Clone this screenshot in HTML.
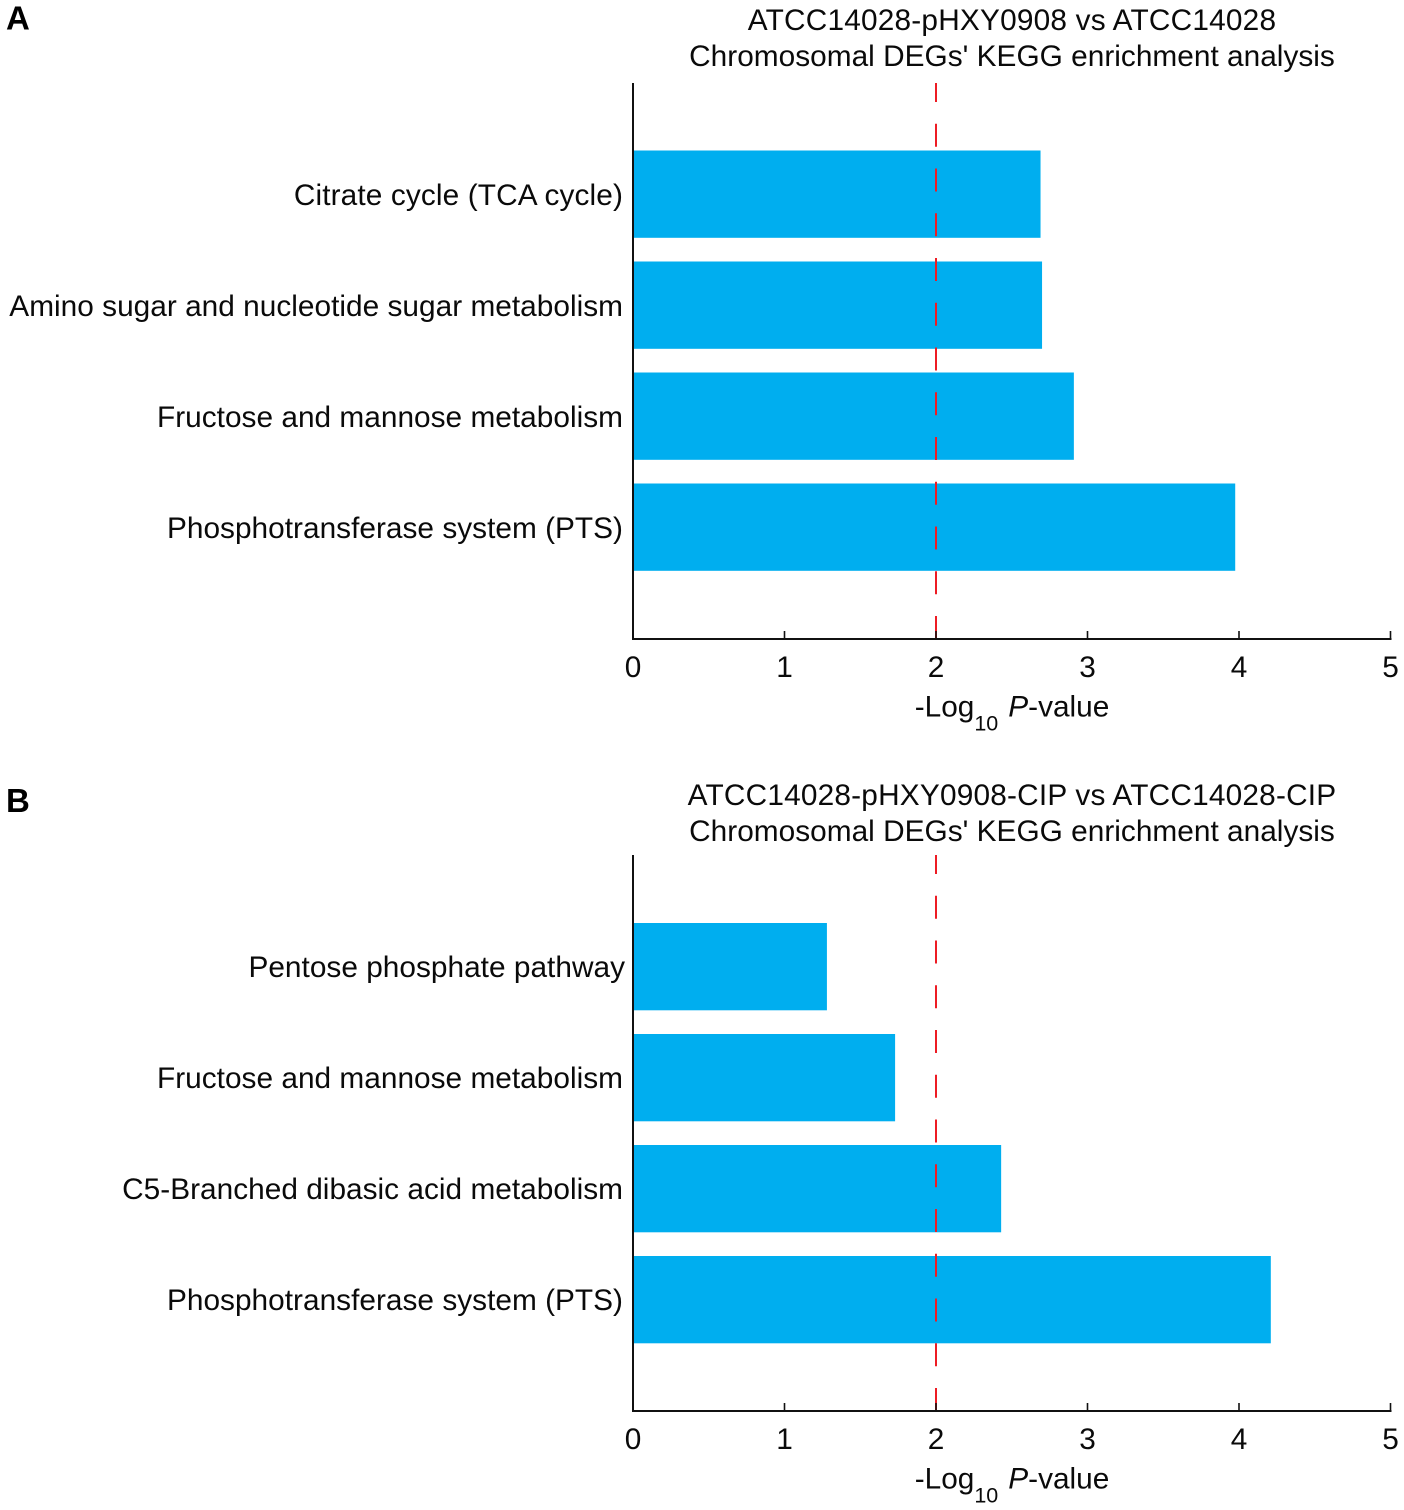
<!DOCTYPE html>
<html lang="en">
<head>
<meta charset="utf-8">
<title>KEGG enrichment analysis</title>
<style>
html,body{margin:0;padding:0;background:#fff;width:1404px;height:1510px;overflow:hidden}
svg{display:block}
text{font-family:"Liberation Sans",Arial,sans-serif;font-size:29.8px;fill:#0a0a0a}
</style>
</head>
<body>
<svg id="figure" xmlns="http://www.w3.org/2000/svg" width="1404" height="1510" viewBox="0 0 1404 1510"></svg>
<script>
const categoriesA = ['Citrate cycle (TCA cycle)', 'Amino sugar and nucleotide sugar metabolism', 'Fructose and mannose metabolism', 'Phosphotransferase system (PTS)'];
const valuesA = [2.69, 2.70, 2.91, 3.975];
const categoriesB = ['Pentose phosphate pathway', 'Fructose and mannose metabolism', 'C5-Branched dibasic acid metabolism', 'Phosphotransferase system (PTS)'];
const valuesB = [1.28, 1.73, 2.43, 4.21];
const tickLabels = [0, 1, 2, 3, 4, 5];
const thresholdValue = 2;
const titleA = ['ATCC14028-pHXY0908 vs ATCC14028', "Chromosomal DEGs' KEGG enrichment analysis"];
const titleB = ['ATCC14028-pHXY0908-CIP vs ATCC14028-CIP', "Chromosomal DEGs' KEGG enrichment analysis"];

const svg = document.getElementById('figure');
const NS = 'http://www.w3.org/2000/svg';
const X0 = 633, X_MAX = 1390.5, DOMAIN_MAX = 5;
const PLOT_H = 556, BAND = 111, BAR_H = 87.3;

function xScale(v) { return X0 + (v / DOMAIN_MAX) * (X_MAX - X0); }
function bandTop(i, top, firstOffset) { return top + firstOffset + i * BAND; }

function make(tag, attrs, parent) {
  const el = document.createElementNS(NS, tag);
  for (const k in attrs) el.setAttribute(k, attrs[k]);
  (parent || svg).appendChild(el);
  return el;
}

function drawPanel(letter, letterY, top, titleY, firstOffset, titleLines, categories, values, key) {
  const g = make('g', {});
  
  
  const bottom = top + PLOT_H;

  const panelLabel = make('text', { x: 6, y: letterY, style: 'font-weight:bold;font-size:33px;fill:#000' }, g);
  panelLabel.textContent = letter;
  
  

  titleLines.forEach(function (line, i) {
    const t = make('text', { x: 1012, y: titleY + i * 36, 'text-anchor': 'middle', 'letter-spacing': i === 0 ? 0.2 : 0.02 }, g);
    t.textContent = line;
    
    
  });

  categories.forEach(function (cat, i) {
    const y = bandTop(i, top, firstOffset);
    const bar = make('rect', { x: X0, y: y, width: xScale(values[i]) - X0, height: BAR_H, fill: '#00aeef' }, g);
    
    
    const labelRight = (cat === 'Pentose phosphate pathway') ? 625 : 623;
    const spacing = (cat.indexOf('TCA') >= 0) ? 0.12 : 0.02;
    const label = make('text', { x: labelRight, y: bandTop(i, top, 67.5) + BAR_H / 2 + 11, 'text-anchor': 'end', 'letter-spacing': spacing }, g);
    label.textContent = cat;
    
    
  });

  const tx = xScale(thresholdValue);
  const threshold = make('line', { x1: tx, x2: tx, y1: bottom, y2: top, stroke: '#ed1c24', 'stroke-width': 2, 'stroke-dasharray': '23 21.75' }, g);
  
  

  const yAxis = make('line', { x1: X0, x2: X0, y1: top, y2: bottom + 1, stroke: '#111', 'stroke-width': 2 }, g);
  
  
  const xAxis = make('line', { x1: X0 - 1, x2: X_MAX + 1, y1: bottom, y2: bottom, stroke: '#111', 'stroke-width': 2 }, g);
  
  

  tickLabels.forEach(function (v) {
    const x = xScale(v);
    const tick = make('line', { x1: x, x2: x, y1: bottom, y2: bottom - 8, stroke: '#111', 'stroke-width': 1.6 }, g);
    
    
    const lab = make('text', { x: x, y: bottom + 38, 'text-anchor': 'middle' }, g);
    lab.textContent = v;
    
    
  });

  const axisTitle = make('text', { x: 1012, y: bottom + 77.5, 'text-anchor': 'middle' }, g);
  
  
  const s1 = make('tspan', {}, axisTitle);
  s1.textContent = '-Log';
  const s2 = make('tspan', { dy: 14, style: 'font-size:21.5px' }, axisTitle);
  s2.textContent = '10';
  const s3 = make('tspan', { dy: -14, dx: 10, style: 'font-style:italic' }, axisTitle);
  s3.textContent = 'P';
  const s4 = make('tspan', {}, axisTitle);
  s4.textContent = '-value';
}

drawPanel('A', 29.5, 83, 30, 67.5, titleA, categoriesA, valuesA, 'a');
drawPanel('B', 812, 855, 805, 68, titleB, categoriesB, valuesB, 'b');
</script>
</body>
</html>
